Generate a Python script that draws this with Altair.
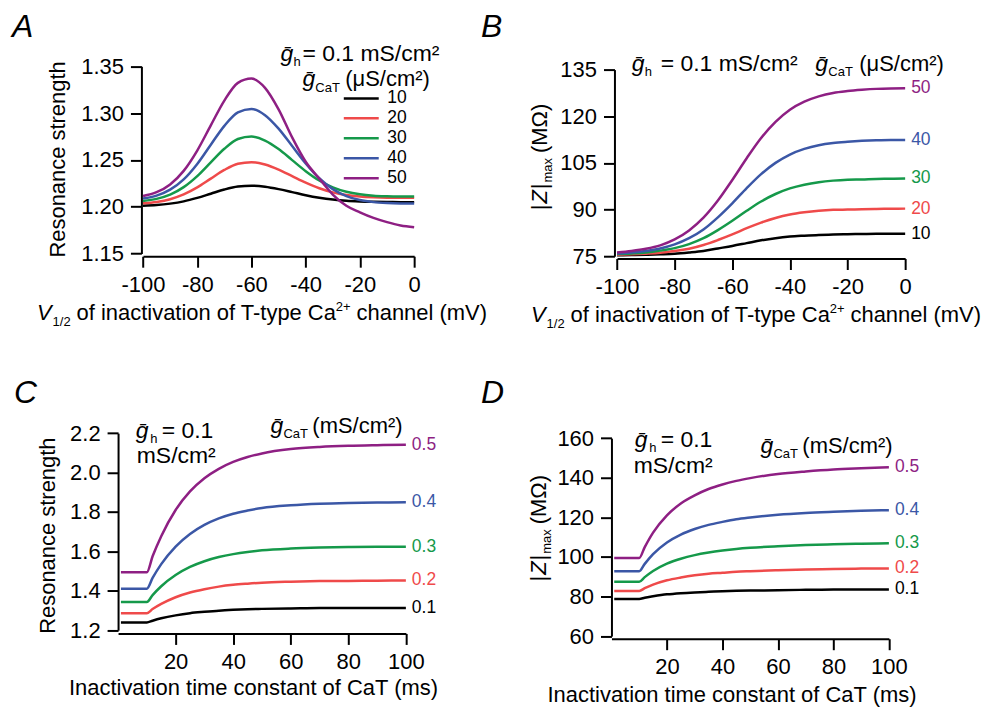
import altair as alt
import pandas as pd

FONT = "Liberation Sans"
COLORS = ["#000000", "#EF4A4A", "#15994A", "#3B57A6", "#8E1F83"]

# ---------------- data ----------------
v_half = [-100, -95, -90, -85, -80, -75, -70, -65, -60, -55, -50,
          -45, -40, -35, -30, -25, -20, -15, -10, -5, 0]
gcat_uS = ["10", "20", "30", "40", "50"]

resA_10 = [1.2011, 1.2018, 1.2033, 1.2057, 1.2094, 1.2139, 1.2184, 1.2216, 1.2225, 1.2213, 1.2188,
           1.2156, 1.2123, 1.2096, 1.2076, 1.2063, 1.2056, 1.2052, 1.2050, 1.2049, 1.2049]
resA_20 = [1.2036, 1.2051, 1.2080, 1.2131, 1.2206, 1.2300, 1.2393, 1.2459, 1.2476, 1.2451, 1.2397,
           1.2327, 1.2257, 1.2197, 1.2153, 1.2125, 1.2109, 1.2101, 1.2097, 1.2096, 1.2095]
resA_30 = [1.2062, 1.2084, 1.2129, 1.2209, 1.2327, 1.2474, 1.2619, 1.2723, 1.2750, 1.2707, 1.2616,
           1.2498, 1.2380, 1.2280, 1.2206, 1.2159, 1.2132, 1.2118, 1.2112, 1.2109, 1.2108]
resA_40 = [1.2087, 1.2118, 1.2182, 1.2292, 1.2457, 1.2662, 1.2864, 1.3008, 1.3045, 1.2978, 1.2834,
           1.2648, 1.2462, 1.2304, 1.2188, 1.2114, 1.2071, 1.2049, 1.2039, 1.2035, 1.2034]
resA_50 = [1.2114, 1.2155, 1.2238, 1.2383, 1.2600, 1.2869, 1.3134, 1.3323, 1.3370, 1.3270, 1.3040,
           1.2740, 1.2480, 1.2300, 1.2130, 1.2010, 1.1940, 1.1880, 1.1835, 1.1800, 1.1781]

zB_10 = [75.3, 75.35, 75.45, 75.6, 75.8, 76.2, 76.7, 77.5, 78.3, 79.2, 80.1,
         80.8, 81.3, 81.6, 81.85, 82.0, 82.1, 82.15, 82.2, 82.2, 82.2]
zB_20 = [75.5, 75.6, 75.8, 76.1, 76.7, 77.4, 78.6, 80.2, 82.0, 84.0, 85.8,
         87.3, 88.4, 89.1, 89.6, 89.9, 90.0, 90.1, 90.2, 90.25, 90.3]
zB_30 = [75.7, 75.9, 76.2, 76.8, 77.6, 78.9, 80.8, 83.4, 86.4, 89.6, 92.6,
         95.0, 96.8, 98.0, 98.8, 99.3, 99.6, 99.7, 99.85, 99.9, 100.0]
zB_40 = [75.9, 76.2, 76.7, 77.5, 78.8, 80.8, 83.6, 87.5, 92.0, 96.9, 101.4,
         105.0, 107.7, 109.5, 110.7, 111.4, 111.8, 112.1, 112.3, 112.4, 112.4]
zB_50 = [76.2, 76.7, 77.4, 78.5, 80.4, 83.3, 87.4, 92.9, 99.5, 106.5, 113.0,
         118.2, 122.1, 124.7, 126.4, 127.5, 128.1, 128.5, 128.8, 128.95, 129.0]

tau_inact = [1, 5, 10, 12, 15, 20, 25, 30, 35, 40, 45, 50, 60, 70, 80, 90, 100]
gcat_mS = ["0.1", "0.2", "0.3", "0.4", "0.5"]

resC_01 = [1.239, 1.239, 1.239, 1.248, 1.260, 1.275, 1.286, 1.293, 1.299, 1.303, 1.306, 1.308, 1.310, 1.312, 1.312, 1.313, 1.313]
resC_02 = [1.286, 1.286, 1.286, 1.307, 1.333, 1.367, 1.391, 1.408, 1.421, 1.430, 1.436, 1.441, 1.446, 1.449, 1.450, 1.451, 1.452]
resC_03 = [1.343, 1.343, 1.343, 1.378, 1.423, 1.480, 1.521, 1.550, 1.571, 1.586, 1.597, 1.605, 1.614, 1.619, 1.622, 1.623, 1.623]
resC_04 = [1.410, 1.410, 1.410, 1.465, 1.535, 1.624, 1.688, 1.734, 1.767, 1.791, 1.807, 1.820, 1.834, 1.842, 1.846, 1.848, 1.849]
resC_05 = [1.494, 1.494, 1.494, 1.575, 1.677, 1.810, 1.904, 1.971, 2.019, 2.054, 2.079, 2.097, 2.119, 2.130, 2.136, 2.139, 2.141]

zD_01 = [78.8, 78.8, 78.8, 79.4, 80.1, 81.1, 81.7, 82.1, 82.4, 82.7, 82.9, 83.0, 83.2, 83.4, 83.5, 83.55, 83.6]
zD_02 = [82.8, 82.8, 82.8, 84.2, 86.0, 88.2, 89.6, 90.7, 91.5, 92.0, 92.5, 92.8, 93.3, 93.7, 93.9, 94.1, 94.2]
zD_03 = [87.5, 87.5, 87.5, 89.8, 92.9, 96.6, 99.1, 100.9, 102.2, 103.2, 104.0, 104.6, 105.4, 106.0, 106.4, 106.7, 106.9]
zD_04 = [92.8, 92.8, 92.8, 96.5, 101.4, 107.3, 111.3, 114.1, 116.2, 117.7, 119.0, 119.9, 121.3, 122.2, 122.8, 123.3, 123.6]
zD_05 = [99.5, 99.5, 99.5, 105.0, 112.3, 121.0, 127.0, 131.1, 134.3, 136.6, 138.4, 139.8, 141.9, 143.2, 144.2, 144.8, 145.3]

ticks_v = [-100, -80, -60, -40, -20, 0]
ticks_tau = [20, 40, 60, 80, 100]
ticks_A = [1.15, 1.20, 1.25, 1.30, 1.35]
ticks_B = [75, 90, 105, 120, 135]
ticks_C = [1.2, 1.4, 1.6, 1.8, 2.0, 2.2]
ticks_D = [60, 80, 100, 120, 140, 160]


def long_df(xs, names, series):
    rows = []
    for name, ys in zip(names, series):
        for xv, yv in zip(xs, ys):
            rows.append({"x": xv, "y": yv, "s": name})
    return pd.DataFrame(rows)


def end_df(xs, names, series):
    return pd.DataFrame([{"x": xs[-1], "y": ys[-1], "s": n} for n, ys in zip(names, series)])


dfA = long_df(v_half, gcat_uS, [resA_10, resA_20, resA_30, resA_40, resA_50])
dfB = long_df(v_half, gcat_uS, [zB_10, zB_20, zB_30, zB_40, zB_50])
dfC = long_df(tau_inact, gcat_mS, [resC_01, resC_02, resC_03, resC_04, resC_05])
dfD = long_df(tau_inact, gcat_mS, [zD_01, zD_02, zD_03, zD_04, zD_05])
endB = end_df(v_half, gcat_uS, [zB_10, zB_20, zB_30, zB_40, zB_50])
endC = end_df(tau_inact, gcat_mS, [resC_01, resC_02, resC_03, resC_04, resC_05])
endD = end_df(tau_inact, gcat_mS, [zD_01, zD_02, zD_03, zD_04, zD_05])

# ---------------- text helpers ----------------
HW = {" ": 278, "(": 333, ")": 333, "+": 584, "-": 333, ".": 278, "/": 278, "=": 584,
      "|": 260, "²": 333, "μ": 556, "Ω": 768, "ḡ": 556,
      "A": 667, "C": 722, "I": 278, "M": 833, "R": 722, "S": 667, "T": 611, "V": 667, "Z": 611}
for _d in "0123456789":
    HW[_d] = 556
HW.update(dict(a=556, b=556, c=500, d=556, e=556, f=278, g=556, h=556, i=222, l=222, m=833,
               n=556, o=556, p=556, r=333, s=500, t=278, u=556, v=500, x=500, y=500))


def tw(s, size):
    return sum(HW.get(ch, 556) for ch in s) * size / 1000.0


ONE = alt.Data(values=[{}])


def txt(s, x, y, size, italic=False, angle=0, align="left", color="black"):
    return alt.Chart(ONE).mark_text(
        font=FONT, fontSize=size, fontStyle="italic" if italic else "normal",
        angle=angle, align=align, baseline="alphabetic", color=color
    ).encode(x=alt.value(x), y=alt.value(y), text=alt.value(s))


def chain_h(pieces, x0, y0):
    out, pos = [], x0
    for s, size, shift, italic, gap in pieces:
        pos += gap
        out.append(txt(s, pos, y0 + shift, size, italic))
        pos += tw(s, size)
    return out


def chain_v(pieces, xb, y0):
    out, pos = [], 0.0
    for s, size, shift, italic, gap in pieces:
        pos += gap
        out.append(txt(s, xb + shift, y0 - pos, size, italic, angle=270))
        pos += tw(s, size)
    return out


LBL = 22
TTL = 22
HDR = 23


def vhalf_title(x0, y0):
    return chain_h([("V", TTL, 0, True, 0), ("1/2", 13, 6, False, 1),
                    ("of inactivation of T-type Ca", TTL, 0, False, 6),
                    ("2+", 13, -9, False, -2), ("channel (mV)", TTL, 0, False, 6)], x0, y0)


def zmax_title(xb, y0):
    return chain_v([("|", TTL, 0, False, 0), ("Z", TTL, 0, True, 1), ("|", TTL, 0, False, 1),
                    ("max", 13, 5, False, 1), ("(MΩ)", TTL, 0, False, 5)], xb, y0)


def axis(values, offset, fmt=None, expr=None):
    kw = dict(values=values, offset=offset, domainColor="black", domainWidth=2,
              tickColor="black", tickWidth=2, tickSize=11, labelFont=FONT,
              labelFontSize=LBL, labelColor="black", labelPadding=7, grid=False,
              title=None, labelFlush=False, labelOverlap=False)
    if fmt:
        kw["format"] = fmt
    if expr:
        kw["labelExpr"] = expr
    return alt.Axis(**kw)


def panel(df, ends, names, xdom, xrng, xticks, xoff, ydom, yrng, yticks, yfmt, yoff, legend, texts):
    x = alt.X("x:Q", scale=alt.Scale(domain=xdom, range=xrng, nice=False, zero=False),
              axis=axis(xticks, xoff, expr="'' + datum.value"))
    y = alt.Y("y:Q", scale=alt.Scale(domain=ydom, range=yrng, nice=False, zero=False),
              axis=axis(yticks, yoff, fmt=yfmt))
    cscale = alt.Scale(domain=names, range=COLORS)
    lines = alt.Chart(df).mark_line(strokeWidth=2.5, interpolate="monotone").encode(
        x=x, y=y, color=alt.Color("s:N", scale=cscale, legend=legend))
    layers = [lines]
    if ends is not None:
        layers.append(alt.Chart(ends).mark_text(
            font=FONT, fontSize=17.5, align="left", baseline="middle", dx=6).encode(
            x=x, y=y, text="s:N", color=alt.Color("s:N", scale=cscale, legend=None)))
    layers += texts
    return alt.layer(*layers).properties(width=490, height=360)


legA = alt.Legend(orient="none", legendX=343, legendY=88, title=None, symbolType="stroke",
                  symbolSize=1225, symbolStrokeWidth=2.5, labelFont=FONT, labelFontSize=17.5,
                  labelColor="black", labelOffset=7, rowPadding=0, clipHeight=19.7, padding=0)

# Panel A  (group origin 0,0)
textsA = [txt("A", 12, 36, 32, italic=True),
          txt("ḡ", 281, 60, HDR, italic=True), txt("h", 294, 65, 13), txt("= 0.1 mS/cm²", 303, 60, HDR),
          txt("ḡ", 303, 85, HDR, italic=True), txt("CaT", 316, 91, 13), txt("(μS/cm²)", 346, 85, TTL),
          txt("Resonance strength", 65, 159, TTL, angle=270, align="center")]
textsA += vhalf_title(37, 320)
pA = panel(dfA, None, gcat_uS, [-100, 0], [143.3, 415], ticks_v, -104,
           [1.15, 1.35], [253.3, 65.7], ticks_A, ".2f", -141.7, legA, textsA)

# Panel B  (group origin 490,0)
textsB = [txt("B", -8, 36, 32, italic=True),
          txt("ḡ", 143, 70, HDR, italic=True), txt("h", 156, 75, 13), txt("= 0.1 mS/cm²", 172, 70, HDR),
          txt("ḡ", 327, 70, HDR, italic=True), txt("CaT", 340, 75, 13), txt("(μS/cm²)", 371, 70, TTL)]
textsB += zmax_title(58, 210)
textsB += vhalf_title(42, 322)
pB = panel(dfB, endB, gcat_uS, [-100, 0], [128.3, 417], ticks_v, -101.7,
           [75, 135], [256, 69], ticks_B, "d", -125.7, None, textsB)

# Panel C  (group origin 0,360)
textsC = [txt("C", 14, 43, 32, italic=True),
          txt("ḡ", 136, 78, HDR, italic=True), txt("h", 150.5, 83, 13), txt("= 0.1", 162, 78, HDR),
          txt("mS/cm²", 137, 103, HDR),
          txt("ḡ", 271, 73, HDR, italic=True), txt("CaT", 284, 78, 13), txt("(mS/cm²)", 313, 73, TTL),
          txt("Resonance strength", 55, 176, TTL, angle=270, align="center"),
          txt("Inactivation time constant of CaT (ms)", 254, 336, TTL, align="center")]
pC = panel(dfC, endC, gcat_mS, [0, 100], [118.3, 406.7], ticks_tau, -86,
           [1.2, 2.2], [270.7, 73.3], ticks_C, ".1f", -118.3, None, textsC)

# Panel D  (group origin 490,360)
textsD = [txt("D", -8, 43, 32, italic=True),
          txt("ḡ", 146, 87, HDR, italic=True), txt("h", 160.5, 92, 13), txt("= 0.1", 172, 87, HDR),
          txt("mS/cm²", 145, 113, HDR),
          txt("ḡ", 272, 93, HDR, italic=True), txt("CaT", 285, 98, 13), txt("(mS/cm²)", 314, 93, TTL),
          txt("Inactivation time constant of CaT (ms)", 243.5, 343, TTL, align="center")]
textsD += zmax_title(57, 222)
pD = panel(dfD, endD, gcat_mS, [0, 100], [122.7, 400.7], ticks_tau, -80.7,
           [60, 160], [276.7, 78.3], ticks_D, "d", -122.7, None, textsD)

chart = alt.concat(pA, pB, pC, pD, columns=2, spacing=0, bounds="flush").resolve_scale(
    color="independent").properties(padding=0).configure_view(stroke=None)

chart.save("out.html", embed_options={"renderer": "svg", "actions": False})
